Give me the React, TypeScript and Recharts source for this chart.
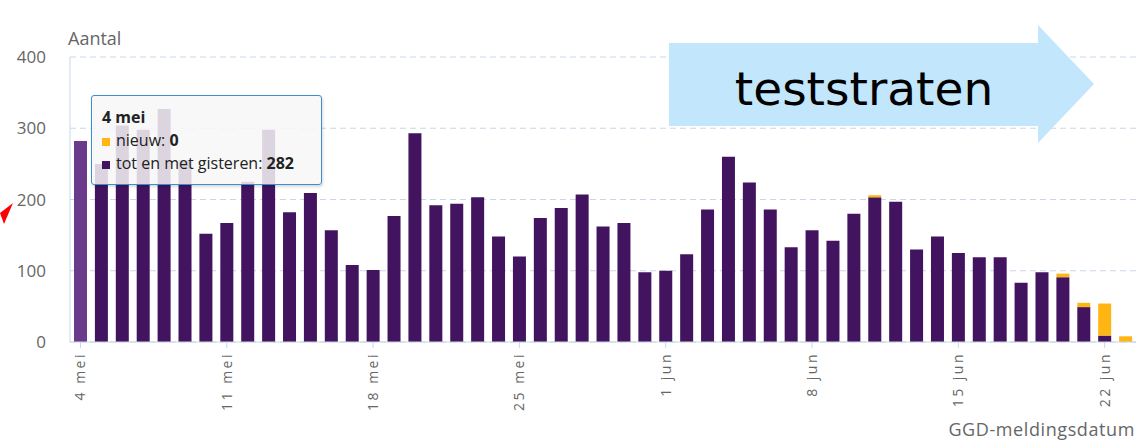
import React from 'react'
import { BarChart, Bar, XAxis, YAxis, CartesianGrid, Tooltip, Cell } from 'recharts'

const dates = [
  '4 mei', '5 mei', '6 mei', '7 mei', '8 mei', '9 mei', '10 mei', '11 mei', '12 mei', '13 mei',
  '14 mei', '15 mei', '16 mei', '17 mei', '18 mei', '19 mei', '20 mei', '21 mei', '22 mei', '23 mei',
  '24 mei', '25 mei', '26 mei', '27 mei', '28 mei', '29 mei', '30 mei', '31 mei', '1 jun', '2 jun',
  '3 jun', '4 jun', '5 jun', '6 jun', '7 jun', '8 jun', '9 jun', '10 jun', '11 jun', '12 jun',
  '13 jun', '14 jun', '15 jun', '16 jun', '17 jun', '18 jun', '19 jun', '20 jun', '21 jun', '22 jun',
  '23 jun'
]

const totEnMetGisteren = [
  282, 250, 304, 298, 327, 255, 152, 167, 225, 298,
  182, 209, 157, 108, 101, 177, 293, 192, 194, 203,
  148, 120, 174, 188, 207, 162, 167, 98, 100, 123,
  186, 260, 224, 186, 133, 157, 142, 180, 203, 197,
  130, 148, 125, 119, 119, 83, 98, 91, 49, 9,
  0
]

const nieuw = [
  0, 0, 0, 0, 0, 0, 0, 0, 0, 0,
  0, 0, 0, 0, 0, 0, 0, 0, 0, 0,
  0, 0, 0, 0, 0, 0, 0, 0, 0, 0,
  0, 0, 0, 0, 0, 0, 0, 0, 3, 0,
  0, 0, 0, 0, 0, 0, 0, 5, 6, 45,
  8
]

const yTicks = [0, 100, 200, 300, 400]

const PURPLE = '#42145f'
const PURPLE_ACTIVE = '#6b3b8b'
const ORANGE = '#ffb612'
const GRID = '#c7d7e8'
const TEXT = '#666666'
const FONT = '"Open Sans", sans-serif'

const data = dates.map((d, i) => ({
  date: d,
  gisteren: totEnMetGisteren[i],
  nieuw: nieuw[i]
}))

const DateTick = ({ x, y, payload }: any) => (
  <g transform={`translate(${x},${y})`}>
    <text
      transform="rotate(-90)"
      textAnchor="end"
      dy={5}
      fill={TEXT}
      fontSize={14}
      fontFamily={FONT}
      style={{ letterSpacing: 2.5 }}
    >
      {payload.value}
    </text>
  </g>
)

const Marker = ({ color }: { color: string }) => (
  <span style={{ display: 'inline-block', width: 8, height: 8, background: color, marginRight: 6 }} />
)

const TipBox = ({ payload, label }: any) => {
  if (!payload || !payload.length) return null
  const p = payload[0].payload
  return (
    <div
      style={{
        width: 209,
        padding: '10px 10px 9px 10px',
        background: 'rgba(247,247,247,0.85)',
        border: '1.5px solid #3a8fd3',
        borderRadius: 3,
        boxShadow: '1px 2px 3px rgba(0,0,0,0.15)',
        fontFamily: FONT,
        fontSize: 16,
        lineHeight: '23px',
        color: '#222'
      }}
    >
      <div style={{ fontWeight: 700 }}>{label}</div>
      <div><Marker color={ORANGE} />nieuw: <b>{p.nieuw}</b></div>
      <div><Marker color={PURPLE} />tot en met gisteren: <b>{p.gisteren}</b></div>
    </div>
  )
}

export default function App() {
  return (
    <div style={{ position: 'absolute', left: 0, top: 0, width: 1138, height: 441, background: '#fff', overflow: 'hidden' }}>
      <BarChart width={1138} height={441} data={data} margin={{ top: 57, right: 2, left: 0, bottom: 0 }}>
        <CartesianGrid vertical={false} stroke={GRID} strokeDasharray="6 4" />
        <XAxis
          dataKey="date"
          interval={6}
          height={99}
          stroke={GRID}
          tickSize={6}
          tickMargin={4}
          tick={<DateTick />}
        />
        <YAxis
          width={70}
          domain={[0, 400]}
          ticks={yTicks}
          stroke={GRID}
          tickLine={false}
          tickMargin={18}
          tick={{ fill: TEXT, fontSize: 17, fontFamily: FONT }}
        />
        <Tooltip
          active
          defaultIndex={0}
          cursor={false}
          position={{ x: 91, y: 95 }}
          isAnimationActive={false}
          wrapperStyle={{ outline: 'none' }}
          content={<TipBox />}
        />
        <Bar dataKey="gisteren" stackId="a" fill={PURPLE} barSize={13} isAnimationActive={false} activeBar={false}>
          {data.map((_, i) => (
            <Cell key={i} fill={i === 0 ? PURPLE_ACTIVE : PURPLE} />
          ))}
        </Bar>
        <Bar dataKey="nieuw" stackId="a" fill={ORANGE} barSize={13} isAnimationActive={false} activeBar={false} />
      </BarChart>

      <div style={{ position: 'absolute', left: 68, top: 26, fontFamily: FONT, fontSize: 18, color: TEXT }}>Aantal</div>
      <div style={{ position: 'absolute', right: 3, top: 417, fontFamily: FONT, fontSize: 18, color: TEXT, letterSpacing: 0.6 }}>
        GGD-meldingsdatum
      </div>

      <svg width={1138} height={441} style={{ position: 'absolute', left: 0, top: 0, pointerEvents: 'none' }}>
        <polygon points="669,43 1038,43 1038,25 1094,84 1038,143 1038,126 669,126" fill="#c2e6fb" />
        <text x={864} y={105} textAnchor="middle" fontFamily="DejaVu Sans, Verdana, sans-serif" fontSize={47} fill="#000">
          teststraten
        </text>
        <polygon points="0,213 13,203 4,224" fill="#ff0000" />
      </svg>
    </div>
  )
}
